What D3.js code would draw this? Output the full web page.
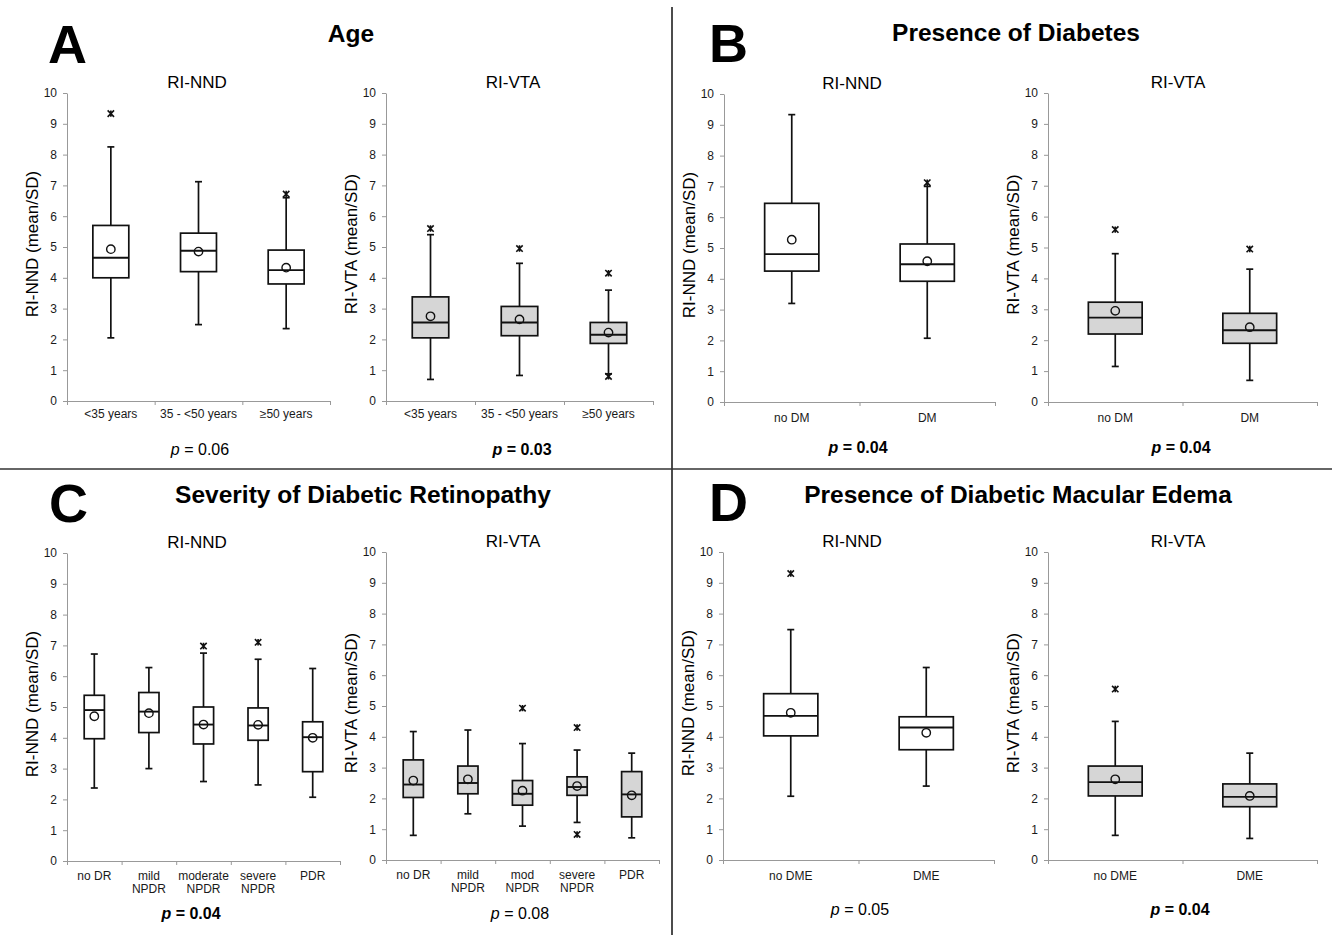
<!DOCTYPE html>
<html>
<head>
<meta charset="utf-8">
<script src="https://cdn.jsdelivr.net/npm/d3@7"></script>
<style>
  body { margin: 0; background: #fff; }
  text { font-family: "Liberation Sans", Arial, sans-serif; }
</style>
</head>
<body>
<div id="chart"></div>
<script>
// Box statistics per category: [whisker low, Q1, median, Q3, whisker high, mean]

// A - Age
const ageGroups = ["<35 years", "35 - <50 years", "≥50 years"];
const ageNND = [[2.05, 4.0, 4.65, 5.7, 8.25, 4.93], [2.48, 4.2, 4.88, 5.45, 7.12, 4.85], [2.35, 3.8, 4.25, 4.9, 6.6, 4.33]];
const ageNNDOut = [[9.33], [], [6.72]];
const ageVTA = [[0.7, 2.05, 2.55, 3.38, 5.4, 2.75], [0.83, 2.12, 2.55, 3.07, 4.47, 2.65], [0.88, 1.87, 2.15, 2.55, 3.6, 2.22]];
const ageVTAOut = [[5.6], [4.95], [4.15, 0.8]];

// B - Diabetes
const dmGroups = ["no DM", "DM"];
const dmNND = [[3.2, 4.25, 4.8, 6.45, 9.33, 5.27], [2.07, 3.92, 4.47, 5.13, 7.0, 4.57]];
const dmNNDOut = [[], [7.12]];
const dmVTA = [[1.15, 2.2, 2.73, 3.23, 4.8, 2.95], [0.7, 1.9, 2.32, 2.87, 4.3, 2.42]];
const dmVTAOut = [[5.58], [4.95]];

// C - Retinopathy
const drGroupsNND = ["no DR", "mild\nNPDR", "moderate\nNPDR", "severe\nNPDR", "PDR"];
const drGroupsVTA = ["no DR", "mild\nNPDR", "mod\nNPDR", "severe\nNPDR", "PDR"];
const drNND = [[2.37, 3.97, 4.9, 5.38, 6.72, 4.7], [3.0, 4.17, 4.85, 5.47, 6.28, 4.8], [2.58, 3.8, 4.43, 5.0, 6.75, 4.43], [2.47, 3.92, 4.4, 4.97, 6.55, 4.42], [2.07, 2.9, 4.02, 4.52, 6.25, 4.0]];
const drNNDOut = [[], [], [6.98], [7.1], []];
const drVTA = [[0.8, 2.03, 2.45, 3.25, 4.17, 2.58], [1.5, 2.15, 2.5, 3.05, 4.22, 2.62], [1.1, 1.78, 2.15, 2.58, 3.78, 2.25], [1.22, 2.1, 2.37, 2.7, 3.57, 2.4], [0.72, 1.4, 2.13, 2.87, 3.47, 2.1]];
const drVTAOut = [[], [], [4.93], [4.3, 0.83], []];

// D - Macular edema
const dmeGroups = ["no DME", "DME"];
const dmeNND = [[2.07, 4.03, 4.68, 5.4, 7.48, 4.78], [2.4, 3.58, 4.3, 4.65, 6.25, 4.13]];
const dmeNNDOut = [[9.3], []];
const dmeVTA = [[0.8, 2.08, 2.53, 3.05, 4.5, 2.62], [0.7, 1.73, 2.05, 2.47, 3.47, 2.08]];
const dmeVTAOut = [[5.55], []];

const pValues = ["0.06", "0.03", "0.04", "0.04", "0.04", "0.08", "0.05", "0.04"];
const pBold = [false, true, true, true, true, false, false, true];

// layout of the eight small plots
const panels = [
  {cats: ageGroups, box: ageNND, out: ageNNDOut, m: "NND", x0: 67, x1: 330, yTop: 93, yBot: 401, frac: 0.41, sub: 197, px: 200, py: 455, lab: 17},
  {cats: ageGroups, box: ageVTA, out: ageVTAOut, m: "VTA", x0: 386, x1: 653, yTop: 93, yBot: 401, frac: 0.41, sub: 513, px: 522, py: 455, lab: 17},
  {cats: dmGroups, box: dmNND, out: dmNNDOut, m: "NND", x0: 724, x1: 995, yTop: 94, yBot: 402, frac: 0.4, sub: 852, px: 858, py: 453, lab: 20},
  {cats: dmGroups, box: dmVTA, out: dmVTAOut, m: "VTA", x0: 1048, x1: 1317, yTop: 93, yBot: 402, frac: 0.4, sub: 1178, px: 1181, py: 453, lab: 20},
  {cats: drGroupsNND, box: drNND, out: drNNDOut, m: "NND", x0: 67, x1: 340, yTop: 553, yBot: 861, frac: 0.37, sub: 197, px: 191, py: 919, lab: 19},
  {cats: drGroupsVTA, box: drVTA, out: drVTAOut, m: "VTA", x0: 386, x1: 659, yTop: 552, yBot: 860, frac: 0.37, sub: 513, px: 520, py: 919, lab: 19},
  {cats: dmeGroups, box: dmeNND, out: dmeNNDOut, m: "NND", x0: 723, x1: 994, yTop: 552, yBot: 860, frac: 0.4, sub: 852, px: 860, py: 915, lab: 20},
  {cats: dmeGroups, box: dmeVTA, out: dmeVTAOut, m: "VTA", x0: 1048, x1: 1317, yTop: 552, yBot: 860, frac: 0.4, sub: 1178, px: 1180, py: 915, lab: 20}
];

const svg = d3.select("#chart")
  .append("svg")
  .attr("width", 1332)
  .attr("height", 935)
  .style("background", "#fff");

// Dividers
svg.append("line")
  .attr("x1", 672).attr("x2", 672).attr("y1", 7).attr("y2", 935)
  .attr("stroke", "#111").attr("stroke-width", 1.5);
svg.append("line")
  .attr("x1", 0).attr("x2", 1332).attr("y1", 469).attr("y2", 469)
  .attr("stroke", "#333").attr("stroke-width", 1.5);

// Panel letters and headings
const letters = [["A", 48, 63], ["B", 709, 62], ["C", 49, 522], ["D", 709, 521]];
svg.selectAll(".letter")
  .data(letters)
  .join("text")
  .attr("x", d => d[1])
  .attr("y", d => d[2])
  .style("font-size", "54px")
  .style("font-weight", "bold")
  .text(d => d[0]);

const headings = [["Age", 351, 42], ["Presence of Diabetes", 1016, 41], ["Severity of Diabetic Retinopathy", 363, 503], ["Presence of Diabetic Macular Edema", 1018, 503]];
svg.selectAll(".heading")
  .data(headings)
  .join("text")
  .attr("x", d => d[1])
  .attr("y", d => d[2])
  .attr("text-anchor", "middle")
  .style("font-size", "24.5px")
  .style("font-weight", "bold")
  .text(d => d[0]);

panels.forEach((p, i) => {
  const n = p.cats.length;
  const x = d3.scaleBand().domain(p.cats).range([p.x0, p.x1]);
  const xb = d3.scaleLinear().domain([0, n]).range([p.x0, p.x1]);
  const y = d3.scaleLinear().domain([0, 10]).range([p.yBot, p.yTop]);
  const g = svg.append("g");
  const fill = p.m === "VTA" ? "#d6d6d6" : "#fff";

  // y axis
  const ya = g.append("g")
    .attr("transform", `translate(${p.x0},0)`)
    .call(d3.axisLeft(y).tickValues(d3.range(0, 11)).tickSize(4).tickSizeOuter(0).tickPadding(6).tickFormat(d3.format("d")));
  ya.select(".domain").attr("stroke", "#999");
  ya.selectAll(".tick line").attr("stroke", "#999");
  ya.selectAll(".tick text").attr("fill", "#1a1a1a").style("font-size", "12px")
    .style("font-family", "'Liberation Sans', Arial, sans-serif");

  // x axis, ticks on the category boundaries
  const xa = g.append("g")
    .attr("transform", `translate(0,${p.yBot})`)
    .call(d3.axisBottom(xb).tickValues(d3.range(0, n + 1)).tickSize(4).tickSizeOuter(0).tickFormat(""));
  xa.select(".domain").attr("stroke", "#999");
  xa.selectAll(".tick line").attr("stroke", "#999");

  // category labels
  const lab = g.selectAll(".cat")
    .data(p.cats)
    .join("text")
    .attr("x", d => x(d) + x.bandwidth() / 2)
    .attr("y", p.yBot + p.lab)
    .attr("text-anchor", "middle")
    .style("font-size", "12px")
    .attr("fill", "#1a1a1a");
  lab.each(function (d) {
    const parts = d.split("\n");
    d3.select(this).selectAll("tspan")
      .data(parts)
      .join("tspan")
      .attr("x", x(d) + x.bandwidth() / 2)
      .attr("dy", (t, k) => k === 0 ? 0 : 13)
      .text(t => t);
  });

  // y axis title
  g.append("text")
    .attr("transform", `translate(${p.x0 - 35},${(p.yTop + p.yBot) / 2 - 3}) rotate(-90)`)
    .attr("text-anchor", "middle")
    .attr("dy", "0.35em")
    .style("font-size", "17px")
    .text(`RI-${p.m} (mean/SD)`);

  // subtitle
  g.append("text")
    .attr("x", p.sub)
    .attr("y", p.yTop - 5)
    .attr("text-anchor", "middle")
    .style("font-size", "17px")
    .text(`RI-${p.m}`);

  // p value
  const pt = g.append("text")
    .attr("x", p.px)
    .attr("y", p.py)
    .attr("text-anchor", "middle")
    .style("font-size", "16px")
    .style("font-weight", pBold[i] ? "bold" : "normal");
  pt.append("tspan").style("font-style", "italic").text("p");
  pt.append("tspan").text(` = ${pValues[i]}`);

  // boxes
  const bw = x.bandwidth() * p.frac;
  const cap = 7;
  const rows = p.box.map((b, k) => ({cat: p.cats[k], lo: b[0], q1: b[1], med: b[2], q3: b[3], hi: b[4], mean: b[5], out: p.out[k]}));
  const bg = g.selectAll(".box")
    .data(rows)
    .join("g")
    .attr("transform", d => `translate(${x(d.cat) + x.bandwidth() / 2},0)`);

  bg.append("line")
    .attr("y1", d => y(d.lo)).attr("y2", d => y(d.q1))
    .attr("stroke", "#111").attr("stroke-width", 1.7);
  bg.append("line")
    .attr("y1", d => y(d.q3)).attr("y2", d => y(d.hi))
    .attr("stroke", "#111").attr("stroke-width", 1.7);
  bg.append("line")
    .attr("x1", -cap / 2).attr("x2", cap / 2)
    .attr("y1", d => y(d.lo)).attr("y2", d => y(d.lo))
    .attr("stroke", "#111").attr("stroke-width", 1.7);
  bg.append("line")
    .attr("x1", -cap / 2).attr("x2", cap / 2)
    .attr("y1", d => y(d.hi)).attr("y2", d => y(d.hi))
    .attr("stroke", "#111").attr("stroke-width", 1.7);
  bg.append("rect")
    .attr("x", -bw / 2).attr("width", bw)
    .attr("y", d => y(d.q3)).attr("height", d => y(d.q1) - y(d.q3))
    .attr("fill", fill).attr("stroke", "#111").attr("stroke-width", 1.7);
  bg.append("line")
    .attr("x1", -bw / 2).attr("x2", bw / 2)
    .attr("y1", d => y(d.med)).attr("y2", d => y(d.med))
    .attr("stroke", "#111").attr("stroke-width", 1.9);
  bg.append("circle")
    .attr("cy", d => y(d.mean))
    .attr("r", 4.2)
    .attr("fill", "none").attr("stroke", "#111").attr("stroke-width", 1.4);

  // outliers (star markers)
  bg.each(function (d) {
    d3.select(this).selectAll(".out")
      .data(d.out)
      .join("path")
      .attr("d", v => {
        const cy = y(v), s = 3.2;
        return `M${-s},${cy - s}L${s},${cy + s}M${-s},${cy + s}L${s},${cy - s}M0,${cy - s}L0,${cy + s}`;
      })
      .attr("stroke", "#111").attr("stroke-width", 1.6).attr("fill", "none");
  });
});
</script>
</body>
</html>
